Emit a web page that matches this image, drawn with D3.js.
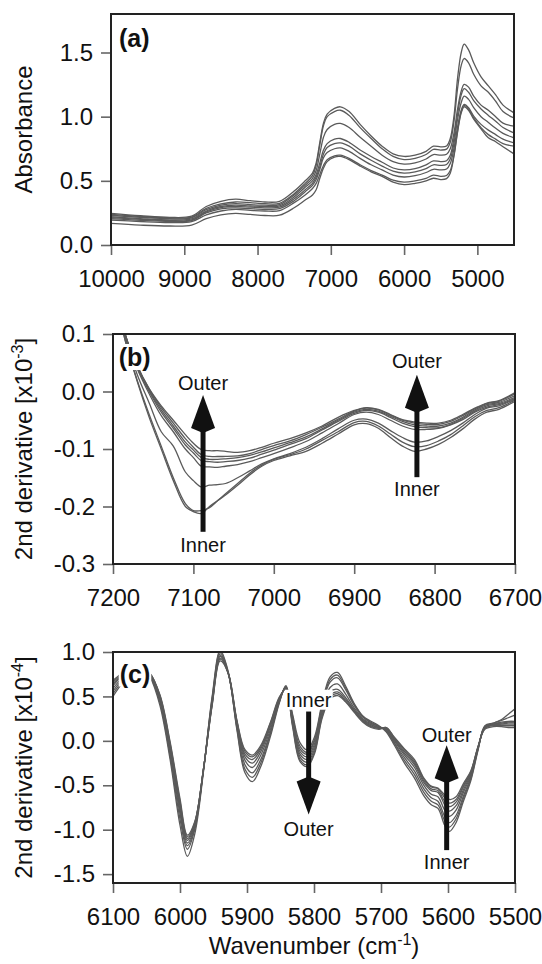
<!DOCTYPE html>
<html>
<head>
<meta charset="utf-8">
<script src="https://cdn.jsdelivr.net/npm/d3@7"></script>
<style>
  body { margin: 0; background: #fff; }
  svg { display: block; font-family: "Liberation Sans", Arial, Helvetica, sans-serif; }
</style>
</head>
<body>
<svg width="542" height="964"></svg>
<script>
// ---------- dados ----------
// (a) absorbância: cada linha = valores dos 8 espectros nesse número de onda
const wnA = [10000, 9600, 9200, 8900, 8700, 8500, 8300, 8100, 7900, 7700, 7500, 7350, 7250, 7200, 7150,
  7100, 7050, 6950, 6870, 6750, 6600, 6450, 6300, 6150, 6000, 5850, 5700, 5600, 5500, 5420, 5370,
  5320, 5270, 5220, 5180, 5120, 5050, 4950, 4850, 4750, 4650, 4500];
const absA = [
  [.246, .238, .232, .220, .213, .205, .195, .168],
  [.228, .222, .216, .206, .200, .192, .183, .155],
  [.215, .210, .205, .196, .190, .183, .175, .148],
  [.225, .218, .212, .203, .196, .190, .182, .155],
  [.300, .285, .275, .265, .258, .250, .235, .205],
  [.340, .320, .310, .300, .292, .282, .265, .235],
  [.357, .335, .322, .310, .300, .290, .277, .246],
  [.345, .330, .315, .304, .295, .283, .270, .238],
  [.335, .322, .310, .300, .290, .278, .265, .230],
  [.340, .325, .315, .305, .295, .283, .268, .232],
  [.420, .400, .390, .375, .360, .345, .330, .290],
  [.500, .480, .465, .450, .430, .415, .390, .350],
  [.560, .540, .520, .500, .480, .465, .440, .390],
  [.640, .620, .580, .550, .530, .510, .480, .430],
  [.800, .780, .710, .640, .610, .590, .550, .520],
  [.950, .930, .840, .740, .710, .680, .620, .600],
  [1.020, 1.000, .900, .790, .760, .720, .665, .650],
  [1.065, 1.040, .940, .825, .790, .750, .695, .685],
  [1.077, 1.050, .947, .830, .796, .757, .700, .690],
  [1.040, 1.010, .915, .800, .770, .730, .675, .665],
  [.940, .915, .840, .740, .710, .675, .625, .615],
  [.850, .830, .770, .690, .660, .625, .580, .570],
  [.770, .750, .700, .645, .615, .585, .545, .535],
  [.710, .690, .650, .600, .575, .545, .505, .490],
  [.690, .665, .630, .585, .560, .530, .490, .470],
  [.700, .675, .640, .595, .570, .540, .500, .480],
  [.730, .705, .670, .625, .595, .565, .520, .500],
  [.770, .745, .705, .655, .625, .590, .545, .520],
  [.765, .740, .700, .650, .620, .585, .535, .510],
  [.772, .747, .707, .657, .627, .592, .542, .517],
  [.830, .800, .750, .700, .670, .635, .580, .560],
  [1.000, .960, .870, .830, .790, .750, .700, .690],
  [1.300, 1.220, 1.060, 1.020, .980, .920, .890, .880],
  [1.500, 1.400, 1.200, 1.170, 1.110, 1.050, 1.040, 1.030],
  [1.565, 1.453, 1.252, 1.218, 1.160, 1.095, 1.088, 1.077],
  [1.520, 1.420, 1.230, 1.190, 1.135, 1.070, 1.060, 1.050],
  [1.420, 1.330, 1.160, 1.125, 1.070, 1.005, .990, .980],
  [1.310, 1.240, 1.090, 1.060, 1.000, .940, .915, .905],
  [1.240, 1.190, 1.050, 1.010, .955, .895, .860, .835],
  [1.170, 1.120, 1.000, .965, .910, .860, .825, .805],
  [1.090, 1.040, .950, .915, .870, .825, .790, .765],
  [1.030, .990, .926, .874, .835, .796, .770, .710]
];

// (b) 2a derivada x10^-3
const wnB = [7200, 7185, 7170, 7155, 7140, 7125, 7110, 7100, 7090, 7080, 7070, 7060, 7045, 7030, 7015,
  7000, 6980, 6960, 6940, 6920, 6900, 6885, 6870, 6855, 6840, 6825, 6810, 6795, 6780, 6765, 6750,
  6735, 6720, 6700];
const derB = [
  [.200, .200, .200, .200, .190, .190, .185, .185],
  [.100, .100, .100, .100, .098, .095, .090, .090],
  [.045, .045, .044, .043, .040, .030, .020, .018],
  [.005, .004, .002, .000, -.004, -.020, -.040, -.045],
  [-.025, -.028, -.032, -.036, -.042, -.070, -.095, -.100],
  [-.050, -.055, -.060, -.064, -.070, -.095, -.150, -.155],
  [-.075, -.082, -.088, -.093, -.100, -.140, -.195, -.200],
  [-.090, -.097, -.102, -.107, -.115, -.155, -.207, -.209],
  [-.101, -.110, -.115, -.120, -.130, -.166, -.207, -.212],
  [-.103, -.113, -.118, -.122, -.131, -.163, -.202, -.200],
  [-.103, -.113, -.118, -.123, -.132, -.162, -.190, -.190],
  [-.104, -.113, -.117, -.122, -.130, -.160, -.178, -.180],
  [-.106, -.112, -.115, -.120, -.127, -.150, -.160, -.163],
  [-.103, -.108, -.111, -.116, -.122, -.138, -.142, -.145],
  [-.097, -.101, -.105, -.109, -.115, -.126, -.128, -.130],
  [-.090, -.094, -.098, -.102, -.108, -.117, -.118, -.120],
  [-.082, -.086, -.089, -.092, -.098, -.108, -.110, -.112],
  [-.072, -.075, -.079, -.082, -.087, -.097, -.100, -.104],
  [-.060, -.062, -.065, -.067, -.072, -.082, -.085, -.090],
  [-.045, -.048, -.050, -.052, -.056, -.065, -.070, -.074],
  [-.033, -.034, -.036, -.038, -.040, -.050, -.054, -.058],
  [-.028, -.029, -.031, -.033, -.036, -.048, -.052, -.056],
  [-.031, -.032, -.034, -.036, -.040, -.055, -.060, -.064],
  [-.040, -.041, -.043, -.045, -.050, -.068, -.074, -.080],
  [-.049, -.050, -.052, -.055, -.060, -.080, -.088, -.095],
  [-.053, -.055, -.058, -.061, -.066, -.088, -.096, -.104],
  [-.055, -.057, -.060, -.063, -.066, -.086, -.094, -.100],
  [-.055, -.057, -.060, -.063, -.064, -.078, -.086, -.092],
  [-.050, -.052, -.055, -.057, -.058, -.068, -.075, -.080],
  [-.040, -.042, -.045, -.047, -.049, -.055, -.060, -.065],
  [-.029, -.030, -.032, -.034, -.036, -.040, -.044, -.048],
  [-.020, -.021, -.023, -.025, -.027, -.029, -.033, -.036],
  [-.016, -.017, -.019, -.021, -.023, -.025, -.028, -.031],
  [-.002, -.004, -.007, -.010, -.012, -.013, -.015, -.017]
];

// (c) 2a derivada x10^-4
const wnC = [6100, 6085, 6070, 6058, 6045, 6030, 6015, 6000, 5989, 5978, 5965, 5952, 5940, 5928, 5915,
  5903, 5892, 5880, 5865, 5852, 5842, 5832, 5821, 5810, 5799, 5788, 5776, 5765, 5753, 5740, 5727,
  5715, 5703, 5692, 5680, 5665, 5650, 5636, 5625, 5615, 5605, 5598, 5588, 5577, 5566, 5555, 5545,
  5532, 5520, 5510, 5500];
const derC = [
  [.50, .53, .56, .59, .62, .64, .66, .68],
  [.66, .68, .70, .72, .74, .75, .76, .77],
  [.78, .79, .80, .81, .82, .82, .83, .83],
  [.82, .82, .82, .82, .82, .81, .81, .80],
  [.72, .73, .74, .75, .76, .76, .76, .75],
  [.40, .43, .45, .47, .49, .50, .51, .52],
  [-.20, -.16, -.12, -.09, -.06, -.04, -.02, .00],
  [-.95, -.88, -.82, -.78, -.74, -.71, -.68, -.65],
  [-1.30, -1.22, -1.18, -1.15, -1.12, -1.10, -1.08, -1.06],
  [-1.05, -1.00, -.98, -.96, -.94, -.93, -.92, -.91],
  [-.35, -.33, -.33, -.32, -.32, -.32, -.32, -.32],
  [.50, .48, .46, .44, .43, .42, .41, .40],
  [1.02, 1.00, .98, .96, .95, .93, .92, .90],
  [.78, .77, .76, .76, .76, .76, .76, .76],
  [.12, .14, .16, .18, .20, .21, .22, .23],
  [-.36, -.32, -.27, -.22, -.18, -.15, -.12, -.10],
  [-.46, -.41, -.36, -.30, -.25, -.21, -.18, -.16],
  [-.30, -.26, -.22, -.17, -.13, -.10, -.08, -.06],
  [.05, .08, .10, .13, .16, .18, .20, .21],
  [.42, .43, .44, .45, .46, .47, .48, .49],
  [.62, .61, .61, .60, .60, .59, .59, .58],
  [.30, .28, .26, .24, .22, .20, .18, .16],
  [-.02, -.06, -.09, -.12, -.15, -.18, -.21, -.23],
  [-.10, -.13, -.15, -.18, -.21, -.24, -.27, -.29],
  [.05, .02, .00, -.03, -.06, -.09, -.12, -.14],
  [.42, .40, .38, .35, .32, .29, .27, .25],
  [.72, .69, .66, .60, .55, .51, .49, .47],
  [.77, .74, .71, .64, .58, .55, .53, .51],
  [.62, .60, .58, .53, .49, .47, .45, .44],
  [.42, .41, .40, .37, .35, .34, .33, .32],
  [.28, .27, .27, .25, .24, .23, .22, .21],
  [.22, .21, .20, .19, .18, .17, .16, .15],
  [.17, .16, .16, .15, .15, .14, .14, .13],
  [.10, .11, .12, .13, .14, .14, .15, .15],
  [-.05, -.03, -.02, .00, .01, .02, .03, .04],
  [-.25, -.22, -.19, -.16, -.14, -.12, -.10, -.09],
  [-.42, -.38, -.34, -.30, -.27, -.25, -.23, -.21],
  [-.62, -.58, -.54, -.50, -.47, -.45, -.43, -.42],
  [-.72, -.68, -.64, -.60, -.56, -.54, -.52, -.51],
  [-.76, -.72, -.68, -.63, -.58, -.56, -.54, -.53],
  [-.95, -.90, -.85, -.78, -.72, -.68, -.64, -.61],
  [-1.02, -.97, -.92, -.85, -.79, -.74, -.70, -.66],
  [-.92, -.88, -.84, -.78, -.73, -.69, -.66, -.63],
  [-.68, -.65, -.62, -.58, -.55, -.52, -.50, -.48],
  [-.45, -.43, -.41, -.39, -.37, -.36, -.35, -.34],
  [-.10, -.09, -.08, -.08, -.07, -.07, -.06, -.06],
  [.17, .16, .16, .15, .15, .14, .14, .13],
  [.20, .20, .19, .19, .18, .18, .17, .16],
  [.24, .23, .21, .20, .19, .18, .17, .16],
  [.30, .26, .22, .21, .20, .18, .17, .15],
  [.36, .29, .22, .21, .20, .18, .17, .15]
];

// ticks
const ticksXA = [10000, 9000, 8000, 7000, 6000, 5000];
const ticksYA = [0, 0.5, 1.0, 1.5];
const ticksXB = [7200, 7100, 7000, 6900, 6800, 6700];
const ticksYB = [-0.3, -0.2, -0.1, 0, 0.1];
const ticksXC = [6100, 6000, 5900, 5800, 5700, 5600, 5500];
const ticksYC = [-1.5, -1.0, -0.5, 0, 0.5, 1.0];

// setas e rótulos (número de onda, valor)
const setasB = [{wn: 7088, de: -0.244, ate: -0.006}, {wn: 6822, de: -0.149, ate: 0.029}];
const textosB = [
  {wn: 7088, v: 0.016, t: 'Outer'}, {wn: 7088, v: -0.267, t: 'Inner'},
  {wn: 6822, v: 0.054, t: 'Outer'}, {wn: 6822, v: -0.169, t: 'Inner'}
];
const setasC = [{wn: 5808, de: 0.33, ate: -0.83}, {wn: 5602, de: -1.23, ate: -0.05}];
const textosC = [
  {wn: 5808, v: 0.465, t: 'Inner', caixa: true}, {wn: 5808, v: -0.995, t: 'Outer'},
  {wn: 5602, v: 0.072, t: 'Outer'}, {wn: 5602, v: -1.358, t: 'Inner'}
];

// ---------- desenho ----------
const svg = d3.select('svg');
const corLinha = '#5a5a5a';

const paineis = [
  {id: 'a', wn: wnA, rows: absA, xDom: [10000, 4500], yDom: [0, 1.8],
   left: 111, right: 514, top: 14, bottom: 245, xTicks: ticksXA, yTicks: ticksYA,
   letra: '(a)', letraPos: [9890, 1.61], titulo: ['Absorbance'], setas: [], textos: []},
  {id: 'b', wn: wnB, rows: derB, xDom: [7200, 6700], yDom: [-0.3, 0.1],
   left: 113, right: 515, top: 334, bottom: 564, xTicks: ticksXB, yTicks: ticksYB,
   letra: '(b)', letraPos: [7193, 0.06], titulo: ['2nd derivative [x10', '-3', ']'],
   setas: setasB, textos: textosB},
  {id: 'c', wn: wnC, rows: derC, xDom: [6100, 5500], yDom: [-1.6, 1.0],
   left: 113, right: 515, top: 652, bottom: 883, xTicks: ticksXC, yTicks: ticksYC,
   letra: '(c)', letraPos: [6090, 0.757], titulo: ['2nd derivative [x10', '-4', ']'],
   setas: setasC, textos: textosC}
];

const caixaBranca = (g, txt) => {
  const b = txt.node().getBBox();
  g.insert('rect', () => txt.node())
    .attr('x', b.x - 1).attr('y', b.y + 1)
    .attr('width', b.width + 2).attr('height', b.height - 2)
    .attr('fill', '#fff');
};

const desenhaPainel = p => {
  const x = d3.scaleLinear().domain(p.xDom).range([p.left, p.right]);
  const y = d3.scaleLinear().domain(p.yDom).range([p.bottom, p.top]);
  const g = svg.append('g');

  g.append('clipPath').attr('id', 'clip-' + p.id)
    .append('rect')
    .attr('x', p.left).attr('y', p.top)
    .attr('width', p.right - p.left).attr('height', p.bottom - p.top);

  const nSeries = p.rows[0].length;
  const series = d3.range(nSeries).map(i => p.wn.map((w, j) => [w, p.rows[j][i]]));

  const linha = d3.line()
    .x(d => x(d[0]))
    .y(d => y(d[1]))
    .curve(d3.curveCatmullRom.alpha(0.5));

  g.append('g')
    .attr('clip-path', `url(#clip-${p.id})`)
    .selectAll('path').data(series)
    .join('path')
      .attr('d', linha)
      .attr('fill', 'none')
      .attr('stroke', corLinha)
      .attr('stroke-width', 1.3);

  // eixos
  const xAxisG = g.append('g')
    .attr('transform', `translate(0,${p.bottom})`)
    .call(d3.axisBottom(x).tickValues(p.xTicks).tickSize(10).tickPadding(15).tickFormat(d3.format('d')));
  const yAxisG = g.append('g')
    .attr('transform', `translate(${p.left},0)`)
    .call(d3.axisLeft(y).tickValues(p.yTicks).tickSize(10).tickPadding(8).tickFormat(d => d.toFixed(1)));

  [xAxisG, yAxisG].forEach(a => {
    a.select('.domain').remove();
    a.selectAll('.tick line').attr('stroke', '#666').attr('stroke-width', 1.6);
    a.selectAll('.tick text').attr('fill', '#111').style('font-size', '24px')
      .style('font-family', '"Liberation Sans", Arial, sans-serif');
  });

  // moldura
  g.append('rect')
    .attr('x', p.left).attr('y', p.top)
    .attr('width', p.right - p.left).attr('height', p.bottom - p.top)
    .attr('fill', 'none').attr('stroke', '#222').attr('stroke-width', 2);

  // letra do painel
  const letra = g.append('text')
    .attr('x', x(p.letraPos[0])).attr('y', y(p.letraPos[1]))
    .attr('dy', '0.36em')
    .style('font-size', '25px').style('font-weight', 'bold')
    .attr('fill', '#111')
    .text(p.letra);
  caixaBranca(g, letra);

  // setas
  p.setas.forEach(s => {
    const cx = x(s.wn), y0 = y(s.de), y1 = y(s.ate);
    const dir = y1 < y0 ? -1 : 1;
    const base = y1 - dir * 33;
    g.append('line')
      .attr('x1', cx).attr('x2', cx)
      .attr('y1', y0).attr('y2', base + dir * 2)
      .attr('stroke', '#111').attr('stroke-width', 5);
    g.append('path')
      .attr('d', `M${cx},${y1} L${cx + 12},${base} L${cx},${base - dir * 5} L${cx - 12},${base} Z`)
      .attr('fill', '#111');
  });

  // rótulos Outer / Inner
  p.textos.forEach(t => {
    const txt = g.append('text')
      .attr('x', x(t.wn)).attr('y', y(t.v))
      .attr('dy', '0.36em')
      .attr('text-anchor', 'middle')
      .style('font-size', '20px')
      .attr('fill', '#111')
      .text(t.t);
    if (t.caixa) caixaBranca(g, txt);
  });

  // título do eixo y
  const meio = (p.top + p.bottom) / 2;
  const tit = svg.append('text')
    .attr('transform', `translate(32,${meio}) rotate(-90)`)
    .attr('text-anchor', 'middle')
    .style('font-size', '24px')
    .attr('fill', '#111');
  tit.append('tspan').text(p.titulo[0]);
  if (p.titulo.length > 1) {
    tit.append('tspan').attr('dy', '-0.55em').style('font-size', '16px').text(p.titulo[1]);
    tit.append('tspan').attr('dy', '0.37em').text(p.titulo[2]);
  }

  return x;
};

paineis.forEach(desenhaPainel);

// título do eixo x (painel c)
const ultimo = paineis[2];
const tx = svg.append('text')
  .attr('x', (ultimo.left + ultimo.right) / 2)
  .attr('y', 954)
  .attr('text-anchor', 'middle')
  .style('font-size', '24px')
  .attr('fill', '#111');
tx.append('tspan').text('Wavenumber (cm');
tx.append('tspan').attr('dy', '-0.55em').style('font-size', '16px').text('-1');
tx.append('tspan').attr('dy', '0.37em').text(')');
</script>
</body>
</html>
